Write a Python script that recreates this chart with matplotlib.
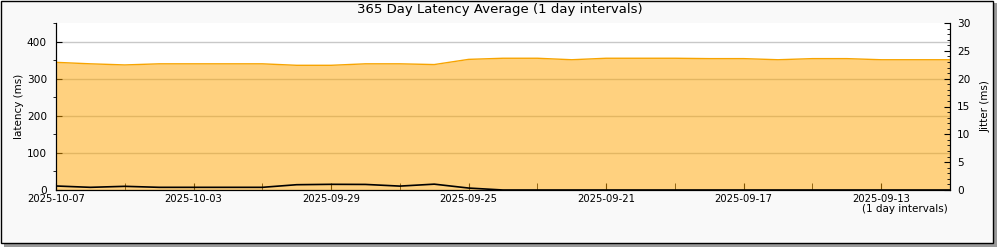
import datetime as dt
import matplotlib
matplotlib.use("Agg")
import matplotlib.pyplot as plt
import matplotlib.dates as mdates
from matplotlib.patches import Rectangle
from matplotlib.ticker import MultipleLocator

# one point per day, newest first
start = dt.date(2025, 10, 7)
days = [start - dt.timedelta(days=i) for i in range(27)]

latency = [344, 340, 337, 340, 340, 340, 340, 336, 336, 340,
           340, 338, 352, 355, 355, 351, 355, 355, 355, 354,
           354, 351, 354, 354, 351, 351, 351]
jitter = [0.72, 0.48, 0.66, 0.48, 0.48, 0.48, 0.48, 0.95, 1.02, 1.0,
          0.7, 1.05, 0.35, 0, 0, 0, 0, 0, 0, 0,
          0, 0, 0, 0, 0, 0, 0]

fig = plt.figure(figsize=(10, 2.5), dpi=100, facecolor="white")

# frame with drop shadow
fig.patches.append(Rectangle((0.004, 0.012), 0.9925, 0.976, transform=fig.transFigure,
                             facecolor="#9a9a9a", edgecolor="none", zorder=-2))
fig.patches.append(Rectangle((0.0005, 0.028), 0.992, 0.97, transform=fig.transFigure,
                             facecolor="#f9f9f9", edgecolor="black", lw=1, zorder=-1))

ax = fig.add_axes([0.056, 0.24, 0.894, 0.668])
ax.set_facecolor("white")

ax.fill_between(days, latency, 0, color="#ffa500", alpha=0.5, lw=0, zorder=2)
ax.plot(days, latency, color="#f7a400", lw=1, zorder=3)

ax.set_xlim(days[0], days[-1])
ax.set_ylim(0, 450)
ax.set_yticks([0, 100, 200, 300, 400])
ax.yaxis.set_minor_locator(MultipleLocator(50))
ax.grid(axis="y", color="#c8c8c8", lw=1, zorder=1)
ax.set_axisbelow(True)

ax.xaxis.set_major_locator(mdates.DayLocator(bymonthday=[7, 3, 29, 25, 21, 17, 13]))
ax.xaxis.set_minor_locator(mdates.DayLocator(bymonthday=[5, 1, 27, 23, 19, 15, 11]))
ax.xaxis.set_major_formatter(mdates.DateFormatter("%Y-%m-%d"))

ax.tick_params(axis="x", which="both", direction="in", length=5, labelsize=7.2, pad=3)
ax.tick_params(axis="y", which="major", direction="in", length=4, labelsize=7.6, pad=6.5)
ax.tick_params(axis="y", which="minor", direction="out", length=2)
ax.set_ylabel("latency (ms)", fontsize=7.5, labelpad=2)
ax.spines["top"].set_visible(False)

ax2 = ax.twinx()
ax2.plot(days, jitter, color="black", lw=1.2, zorder=4)
ax2.set_ylim(0, 30)
ax2.yaxis.set_major_locator(MultipleLocator(5))
ax2.yaxis.set_minor_locator(MultipleLocator(1))
ax2.tick_params(axis="y", which="major", direction="in", length=4, labelsize=7.6, pad=5)
ax2.tick_params(axis="y", which="minor", direction="in", length=2)
ax2.set_ylabel("Jitter (ms)", fontsize=7.5, labelpad=7)
ax2.spines["top"].set_visible(False)

fig.text(0.5, 1 - 10 / 250, "365 Day Latency Average (1 day intervals)",
         ha="center", va="center", fontsize=9.5)
fig.text(0.948, 1 - 209 / 250, "(1 day intervals)", ha="right", va="center", fontsize=7.5)

fig.savefig("out.png", dpi=100)
